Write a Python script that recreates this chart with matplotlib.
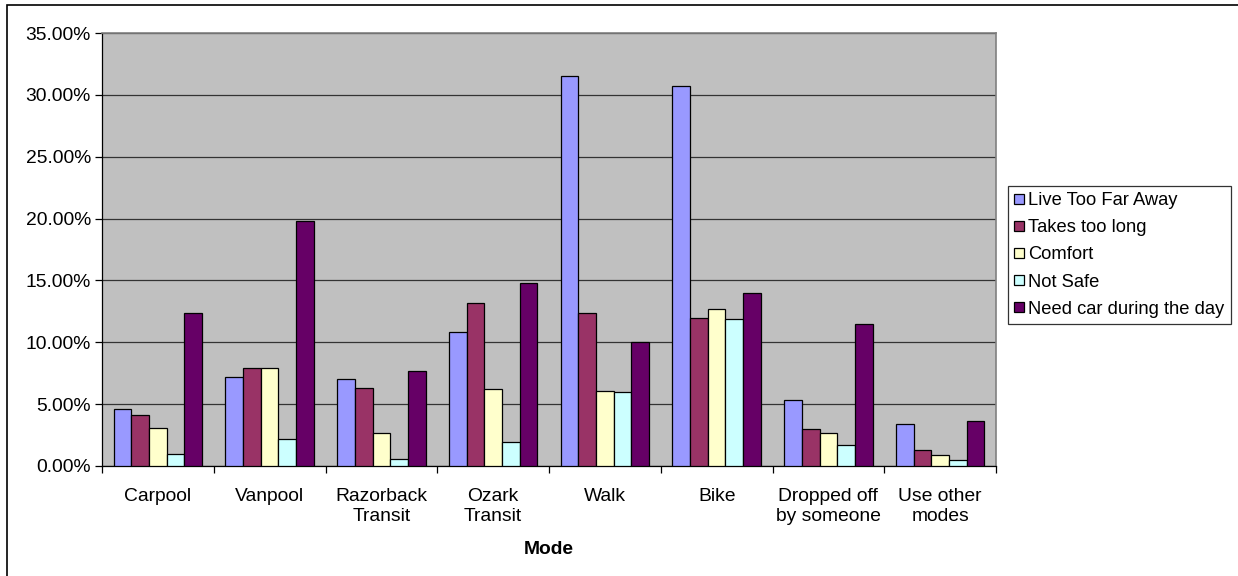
import numpy as np
import matplotlib.pyplot as plt
from matplotlib.patches import Rectangle
from matplotlib.ticker import FuncFormatter

plt.rcParams['font.family'] = ['Liberation Sans', 'DejaVu Sans']

# categories and series (percent)
modes = ["Carpool", "Vanpool", "Razorback\nTransit", "Ozark\nTransit", "Walk",
         "Bike", "Dropped off\nby someone", "Use other\nmodes"]
live_far = [4.6, 7.2, 7.0, 10.8, 31.5, 30.7, 5.3, 3.4]
takes_long = [4.1, 7.9, 6.3, 13.2, 12.4, 12.0, 3.0, 1.3]
comfort = [3.05, 7.9, 2.65, 6.25, 6.1, 12.7, 2.65, 0.85]
not_safe = [0.95, 2.2, 0.6, 1.9, 6.0, 11.9, 1.7, 0.5]
need_car = [12.4, 19.8, 7.7, 14.8, 10.0, 14.0, 11.5, 3.65]

series = [
    ("Live Too Far Away", live_far, "#9999FF"),
    ("Takes too long", takes_long, "#993366"),
    ("Comfort", comfort, "#FFFFCC"),
    ("Not Safe", not_safe, "#CCFFFF"),
    ("Need car during the day", need_car, "#660066"),
]

FS = 13.9

fig = plt.figure(figsize=(12.38, 5.76), dpi=100)
ax = fig.add_axes([102 / 1238, 1 - 466 / 576, (996 - 102) / 1238, (466 - 33) / 576])
ax.set_facecolor("#C0C0C0")

x = np.arange(len(modes))
w = 0.158
for i, (name, vals, col) in enumerate(series):
    ax.bar(x + (i - 2) * w, vals, w, color=col, edgecolor="black", linewidth=0.9,
           label=name, zorder=3)

ax.set_xlim(-0.5, len(modes) - 0.5)
ax.set_ylim(0, 35)
ax.set_yticks(np.arange(0, 36, 5))
ax.yaxis.set_major_formatter(FuncFormatter(lambda v, p: f"{v:.2f}%"))
ax.yaxis.grid(True, color="#333333", linewidth=0.9, zorder=1)

# category labels sit between the boundary ticks
ax.set_xticks(np.arange(-0.5, len(modes), 1.0))
ax.set_xticklabels([])
ax.set_xticks(x, minor=True)
ax.set_xticklabels(modes, minor=True, fontsize=FS)
ax.tick_params(axis="x", which="minor", length=0, pad=16)
ax.tick_params(axis="x", which="major", length=5, width=0.9, direction="out")
ax.tick_params(axis="y", length=5, width=0.9, labelsize=FS, pad=3)

for s in ["top", "right"]:
    ax.spines[s].set_color("#808080")
    ax.spines[s].set_linewidth(1.2)
for s in ["left", "bottom"]:
    ax.spines[s].set_color("black")
    ax.spines[s].set_linewidth(0.9)

ax.set_xlabel("Mode", fontsize=FS, fontweight="bold", labelpad=12)

leg = ax.legend(loc="center left", bbox_to_anchor=(1008 / 1238, 1 - 255 / 576),
                bbox_transform=fig.transFigure, fontsize=13.2, frameon=True,
                fancybox=False, edgecolor="black", handlelength=0.5,
                handleheight=0.5, handletextpad=0.25, labelspacing=0.55,
                borderpad=0.35, borderaxespad=0)
leg.get_frame().set_linewidth(0.9)

# chart frame (only top and left edges show in the picture)
fig.patches.append(Rectangle((7 / 1238, -0.1), 1.2, 1.1 - 5 / 576,
                             transform=fig.transFigure, fill=False,
                             edgecolor="black", linewidth=1.2))

fig.savefig("out.png", dpi=100)
